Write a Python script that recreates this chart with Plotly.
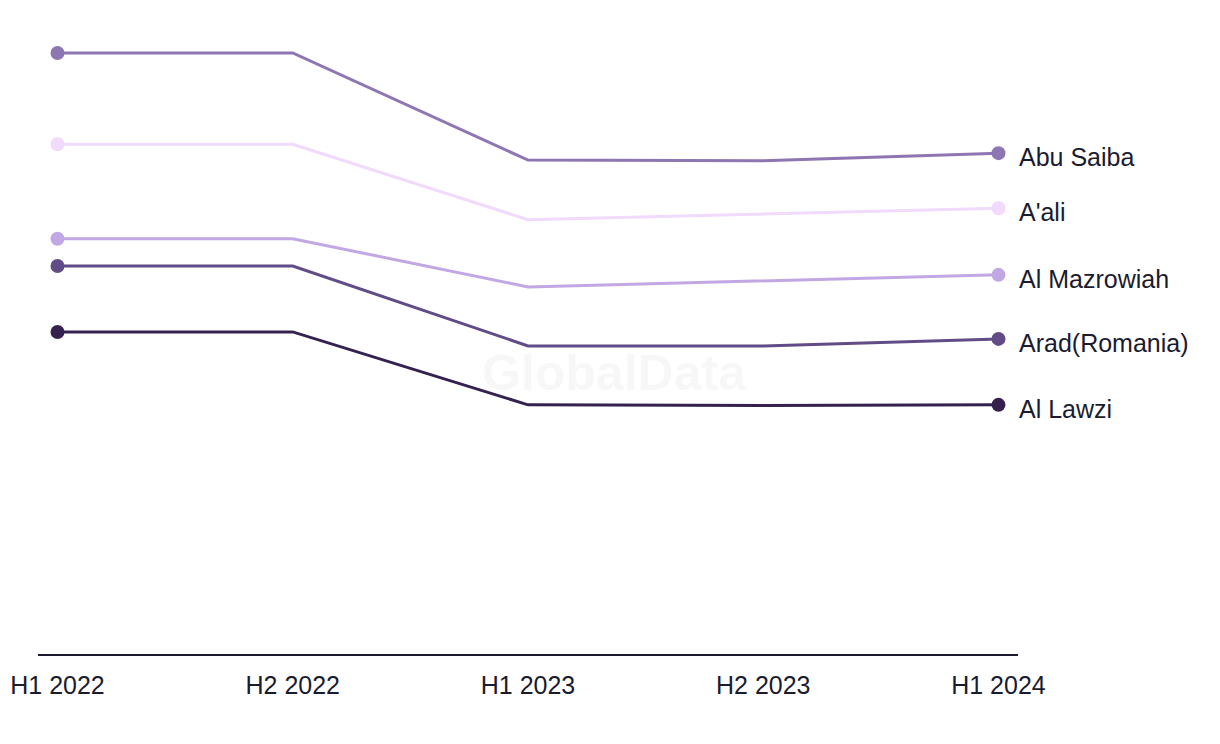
import plotly.graph_objects as go

periods = ["H1 2022", "H2 2022", "H1 2023", "H2 2023", "H1 2024"]

abu_saiba = [94.8, 94.8, 77.9, 77.8, 79.0]
a_ali = [80.4, 80.4, 68.5, 69.4, 70.3]
al_mazrowiah = [65.5, 65.5, 57.9, 58.8, 59.8]
arad_romania = [61.2, 61.2, 48.6, 48.6, 49.7]
al_lawzi = [50.8, 50.8, 39.3, 39.2, 39.3]

series_names = ["Abu Saiba", "A'ali", "Al Mazrowiah", "Arad(Romania)", "Al Lawzi"]
series_values = [abu_saiba, a_ali, al_mazrowiah, arad_romania, al_lawzi]
colors = ["#8e76b2", "#f1dafc", "#c1a7e4", "#614c87", "#35214f"]

FONT = "Liberation Sans"
TEXT_COLOR = "#1b1b2f"

n = len(periods)
xs = list(range(n))

fig = go.Figure()
for name, vals, col in zip(series_names, series_values, colors):
    fig.add_trace(go.Scatter(
        x=xs, y=vals, mode="lines", name=name,
        line=dict(color=col, width=3),
        showlegend=False, cliponaxis=False,
    ))
    fig.add_trace(go.Scatter(
        x=[xs[0], xs[-1]], y=[vals[0], vals[-1]], mode="markers", name=name,
        marker=dict(color=col, size=14, line=dict(width=0)),
        showlegend=False, cliponaxis=False,
    ))
    fig.add_annotation(
        x=xs[-1], y=vals[-1], text=name, showarrow=False,
        xanchor="left", yanchor="middle", xshift=19, yshift=-4,
        font=dict(family=FONT, size=25, color=TEXT_COLOR),
    )

fig.add_annotation(
    x=0.588, y=0.443, xref="paper", yref="paper", text="<b>GlobalData</b>",
    showarrow=False, font=dict(family=FONT, size=50, color="rgba(0,0,0,0.03)"),
    xanchor="center", yanchor="middle",
)

fig.update_layout(
    width=1220, height=744,
    margin=dict(l=38, r=202, t=20, b=90),
    plot_bgcolor="white", paper_bgcolor="white",
    font=dict(family=FONT, size=25, color=TEXT_COLOR),
    xaxis=dict(
        tickmode="array", tickvals=xs, ticktext=periods,
        range=[-0.083, 4.083], showgrid=False, zeroline=False,
        showline=True, linecolor=TEXT_COLOR, linewidth=2,
        ticks="", ticklabelstandoff=8, automargin=False,
        tickfont=dict(family=FONT, size=25, color=TEXT_COLOR),
    ),
    yaxis=dict(range=[0, 100], visible=False, showgrid=False, zeroline=False,
               automargin=False),
)

fig.write_html("out.html")
